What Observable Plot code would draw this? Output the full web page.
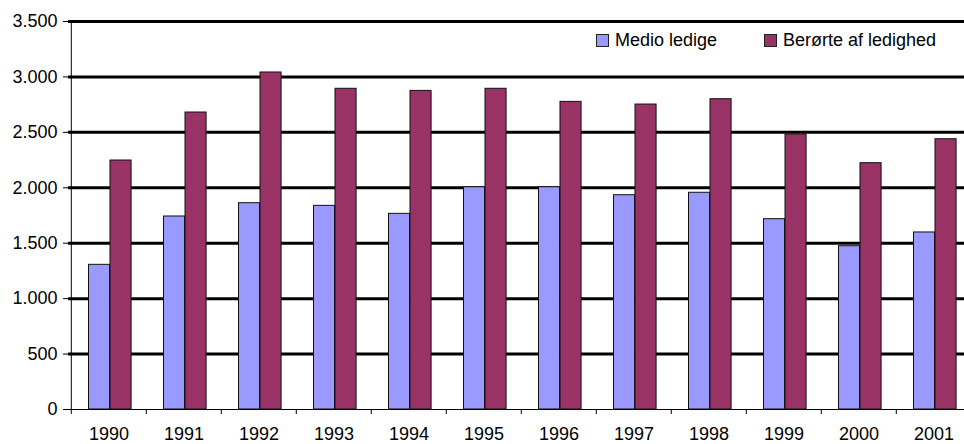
<!DOCTYPE html>
<html><head><meta charset="utf-8">
<script src="https://cdn.jsdelivr.net/npm/d3@7"></script>
<script src="https://cdn.jsdelivr.net/npm/@observablehq/plot@0.6"></script>
<style>
body{margin:0;background:#fff}
#wrap{position:relative;width:964px;height:444px;font-family:"Liberation Sans",Arial,sans-serif;overflow:hidden}
.legend{position:absolute;top:30px;display:flex;align-items:center;font-size:18px;line-height:20px;color:#000;white-space:nowrap}
.sw{width:11px;height:11px;border:1px solid #222;margin-right:6px}
</style></head><body><div id="wrap"></div><script>
const years = ["1990","1991","1992","1993","1994","1995","1996","1997","1998","1999","2000","2001"];
const medio = [1305,1741,1861,1837,1765,2005,2005,1933,1955,1717,1473,1597];
const beroerte = [2246,2679,3040,2893,2874,2893,2775,2751,2799,2481,2222,2438];
const yTicks = [0,500,1000,1500,2000,2500,3000,3500];
const seriesNames = ["Medio ledige","Berørte af ledighed"];
const colors = ["#9999FF","#993366"];

const W=964,H=444,mL=68,mR=-9,mT=21,mB=35;
const step=(W-mL-mR)/years.length;
const data = years.map((y,i)=>({year:y, medio:medio[i], ber:beroerte[i]}));
const fmt = d => d3.format(",")(d).replace(/,/g,".");

const chart = Plot.plot({
  width:W,height:H,marginLeft:mL,marginRight:mR,marginTop:mT,marginBottom:mB,
  style:{fontFamily:'"Liberation Sans",Arial,sans-serif',fontSize:"18px",color:"#000",background:"#fff"},
  x:{type:"band",domain:years,padding:0},
  y:{domain:[0,3500]},
  marks:[
    Plot.ruleY(yTicks.filter(d=>d>0),{stroke:"#000",strokeWidth:3}),
    Plot.barY(data,{x:"year",y:"medio",fill:colors[0],stroke:"#111",strokeWidth:1,insetLeft:17.5,insetRight:step-39}),
    Plot.barY(data,{x:"year",y:"ber",fill:colors[1],stroke:"#111",strokeWidth:1,insetLeft:39,insetRight:step-60.5}),
    Plot.ruleY([0],{stroke:"#000",strokeWidth:1}),
    Plot.ruleX(years,{x:d=>d,dx:-step/2,y1:0,y2:-45,stroke:"#000"}),
    Plot.ruleX([years[0]],{x:d=>d,dx:-step/2,y1:0,y2:3500,stroke:"#000"}),
    Plot.axisY({ticks:yTicks,tickFormat:fmt,tickSize:5,tickPadding:6,label:null}),
    Plot.axisX({tickSize:0,tickPadding:18,label:null})
  ]
});
const wrap=document.getElementById("wrap");
wrap.appendChild(chart);
const lefts=[596,764];
seriesNames.forEach((n,i)=>{
  const d=document.createElement("div");
  d.className="legend";
  d.style.left=lefts[i]+"px";
  const s=document.createElement("span");s.className="sw";s.style.background=colors[i];
  const t=document.createElement("span");t.textContent=n;
  d.appendChild(s);d.appendChild(t);wrap.appendChild(d);
});
</script></body></html>
